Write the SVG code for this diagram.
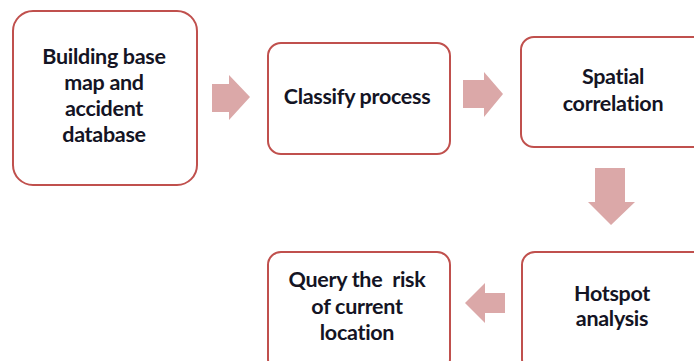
<svg xmlns="http://www.w3.org/2000/svg" width="694" height="361" viewBox="0 0 694 361">
  <style>
    .box { fill: #ffffff; stroke: #c0504d; stroke-width: 2; }
    .arrow { fill: #dba8a8; }
    .label { font-family: "Lato", "Open Sans", "Liberation Sans", sans-serif; font-weight: bold; font-size: 21.5px; fill: #141424; text-anchor: middle; letter-spacing: -0.3px; }
  </style>
  <rect width="694" height="361" fill="#ffffff"/>

  <g id="connectors">
    <polygon class="arrow" points="212,84 229,84 229,75 250,97 229,120 229,112 212,112"/>
    <polygon class="arrow" points="463,80 484,80 484,72 503,94 484,117 484,108 463,108"/>
    <polygon class="arrow" points="595,168 625,168 625,202 635,202 611,225 588,202 595,202"/>
    <polygon class="arrow" points="505,293 485,293 485,283 465,303 485,323 485,313 505,313"/>
  </g>

  <g id="node-base-map">
    <rect class="box" x="13" y="11" width="184" height="174" rx="20" ry="20"/>
    <text class="label" x="104" y="64">Building base</text>
    <text class="label" x="104" y="90">map and</text>
    <text class="label" x="104" y="116">accident</text>
    <text class="label" x="104" y="142">database</text>
  </g>

  <g id="node-classify">
    <rect class="box" x="268" y="43" width="182" height="111" rx="13" ry="13"/>
    <text class="label" x="357" y="104">Classify process</text>
  </g>

  <g id="node-spatial">
    <rect class="box" x="521" y="37" width="190" height="110" rx="13" ry="13"/>
    <text class="label" x="613" y="84">Spatial</text>
    <text class="label" x="613" y="111">correlation</text>
  </g>

  <g id="node-hotspot">
    <rect class="box" x="522" y="252" width="190" height="120" rx="13" ry="13"/>
    <text class="label" x="612" y="301">Hotspot</text>
    <text class="label" x="612" y="326">analysis</text>
  </g>

  <g id="node-query">
    <rect class="box" x="268" y="252" width="182" height="120" rx="13" ry="13"/>
    <text class="label" x="357" y="287" xml:space="preserve">Query the  risk</text>
    <text class="label" x="357" y="314">of current</text>
    <text class="label" x="357" y="340">location</text>
  </g>
</svg>
